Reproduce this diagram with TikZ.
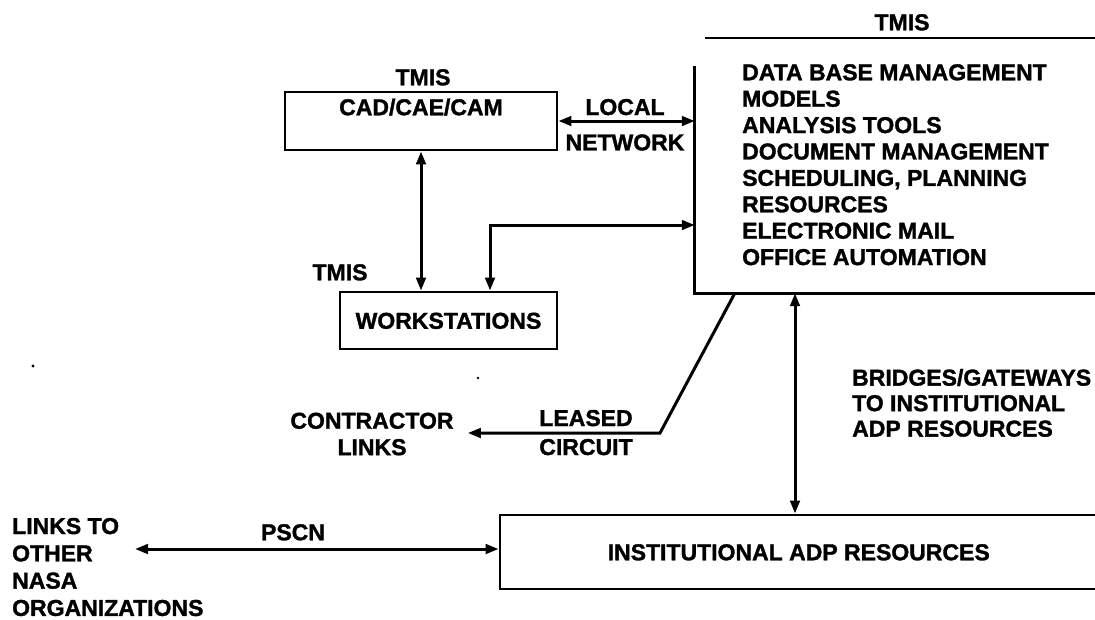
\documentclass[tikz,border=0pt]{standalone}
\usepackage{fontspec}
\newfontfamily\chartfont{Liberation Sans}[BoldFeatures={FakeBold=1.4}]
\usetikzlibrary{arrows.meta,fit}

\tikzset{
  txt/.style={font=\chartfont\bfseries\fontsize{23}{26.4}\selectfont, inner sep=0pt},
  oneline/.style={txt, text height=16.5pt, text depth=0pt},
  framebox/.style={draw, line width=2.8pt, inner sep=0pt},
  link/.style={line width=3pt},
  hrule/.style={line width=2.8pt},
}

\begin{document}
\begin{tikzpicture}[x=1pt, y=-1pt, >={Triangle[length=13pt,width=9.5pt]}, line join=miter]
\useasboundingbox (0,0) rectangle (1095,619);
\fill[white] (0,0) rectangle (1095,619);

% central TMIS services block (open on the right)
\node[oneline] (tmishead) at (902,22) {TMIS};
\draw[hrule] (705,38) -- (1100,38);
\node[fit={(695,66) (1100,293)}, inner sep=0pt] (tmis) {};
\draw[framebox] (tmis.north west) -- (tmis.south west) -- (tmis.south east);
\node[txt, anchor=north west, align=left] (services) at (742,64)
  {DATA BASE MANAGEMENT\\MODELS\\ANALYSIS TOOLS\\DOCUMENT MANAGEMENT\\SCHEDULING, PLANNING\\RESOURCES\\ELECTRONIC MAIL\\OFFICE AUTOMATION};

% CAD/CAE/CAM and workstations
\node[oneline] (cadhead) at (423,77) {TMIS};
\node[framebox, oneline, minimum width=272pt, minimum height=58pt, text depth=28pt] (cad) at (421,121) {CAD/CAE/CAM};
\node[oneline] (wshead) at (340,272) {TMIS};
\node[framebox, oneline, minimum width=217pt, minimum height=57pt] (ws) at (448.5,320.5) {WORKSTATIONS};

% local network
\draw[link,<->] (cad.east) -- (cad.east -| tmis.west);
\node[txt, align=center, anchor=north] (lan) at (625,98.75) {LOCAL\\[9pt]NETWORK};
\draw[link,<->] (cad.south) -- (cad.south |- ws.north);
\coordinate (bend) at (490,225);
\draw[link,<->] (bend -| tmis.west) -- (bend) -- (bend |- ws.north);

% leased circuit to contractors
\node[txt, align=center, inner xsep=14pt] (contr) at (372,434) {CONTRACTOR\\LINKS};
\coordinate (lcTop) at ([xshift=40pt]tmis.south west);
\coordinate (lcBend) at (660,433);
\draw[link,->] (lcTop) -- (lcBend) -- (lcBend -| contr.east);
\node[txt, align=center, anchor=north] (leased) at (586,409.75) {LEASED\\[2.6pt]CIRCUIT};

% institutional resources and gateways
\node[framebox, oneline, minimum width=597.5pt, minimum height=74pt] (inst) at (798.75,552) {INSTITUTIONAL ADP RESOURCES};
\coordinate (gw) at (795,0);
\draw[link,<->] (gw |- tmis.south) -- (gw |- inst.north);
\node[txt, font=\chartfont\bfseries\fontsize{23}{25.5}\selectfont, align=left, anchor=north west] (gwlabel) at (852,368.75)
  {BRIDGES/GATEWAYS\\TO INSTITUTIONAL\\ADP RESOURCES};

% links to other NASA organizations
\node[txt, font=\chartfont\bfseries\fontsize{23}{27.3}\selectfont, align=left, anchor=north west] (nasa) at (12,517.75)
  {LINKS TO\\OTHER\\NASA\\ORGANIZATIONS};
\coordinate (pscnEnd) at (135,549);
\draw[link,<->] (pscnEnd) -- (pscnEnd -| inst.west);
\node[oneline] (pscn) at (293,532) {PSCN};

% stray specks
\fill (33,366) circle (1.6pt);
\fill (478,378) circle (1.4pt);
\end{tikzpicture}
\end{document}
